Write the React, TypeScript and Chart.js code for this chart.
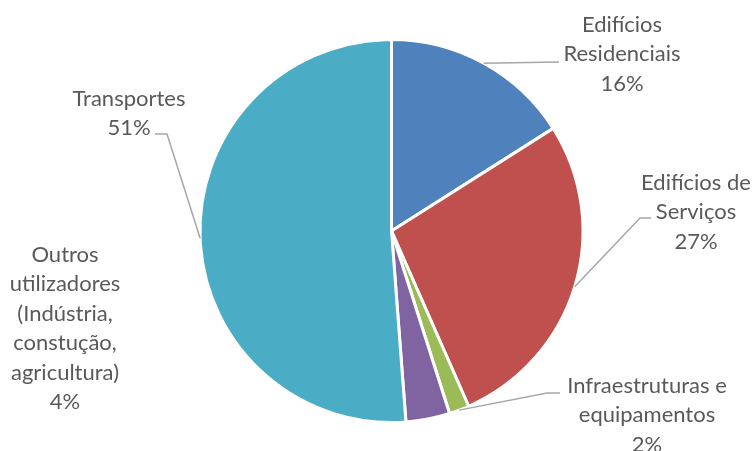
import React, { useEffect, useRef } from "react";
import { Chart, registerables } from "chart.js";

Chart.register(...registerables);

const categories = [
  "Edifícios Residenciais",
  "Edifícios de Serviços",
  "Infraestruturas e equipamentos",
  "Outros utilizadores (Indústria, constução, agricultura)",
  "Transportes",
];
const values = [16, 27.4, 1.7, 3.7, 51.2];
const labelLines = [
  ["Edifícios", "Residenciais"],
  ["Edifícios de", "Serviços"],
  ["Infraestruturas e", "equipamentos"],
  ["Outros", "utilizadores", "(Indústria,", "constução,", "agricultura)"],
  ["Transportes"],
];
const colors = ["#4F81BD", "#C0504D", "#9BBB59", "#8064A2", "#4BACC6"];

// layout of labels (center x, first baseline) and leader elbows
const labelLayout = [
  { x: 622, y: 32, leader: [[559, 62]] },
  { x: 696, y: 190, leader: [[640, 218], [651, 218]] },
  { x: 647, y: 393, leader: [[547, 393], [560, 393]] },
  { x: 65, y: 262, leader: [] },
  { x: 129, y: 106, leader: [[167, 134], [155, 134]] },
];

const FONT = '22px Lato, "Open Sans", sans-serif';
const LINE_H = 29.4;

const labelPlugin = {
  id: "pieLabels",
  afterDatasetsDraw(chart: any) {
    const ctx = chart.ctx;
    const meta = chart.getDatasetMeta(0);
    const data = chart.data.datasets[0].data as number[];
    const total = data.reduce((a, b) => a + b, 0);
    ctx.save();
    meta.data.forEach((arc: any, i: number) => {
      const p = arc.getProps(["x", "y", "startAngle", "endAngle", "outerRadius"], true);
      const mid = (p.startAngle + p.endAngle) / 2;
      const L = labelLayout[i];
      if (L.leader.length) {
        ctx.beginPath();
        ctx.strokeStyle = "#A6A6A6";
        ctx.lineWidth = 1.5;
        ctx.moveTo(p.x + Math.cos(mid) * p.outerRadius, p.y + Math.sin(mid) * p.outerRadius);
        L.leader.forEach((pt) => ctx.lineTo(pt[0], pt[1]));
        ctx.stroke();
      }
      const lines = [...labelLines[i], Math.round((data[i] / total) * 100) + "%"];
      ctx.fillStyle = "#595959";
      ctx.font = FONT;
      ctx.textAlign = "center";
      ctx.textBaseline = "alphabetic";
      lines.forEach((t, k) => ctx.fillText(t, L.x, L.y + k * LINE_H));
    });
    ctx.restore();
  },
};

export default function App() {
  const ref = useRef<HTMLCanvasElement>(null);
  useEffect(() => {
    const chart = new Chart(ref.current!, {
      type: "pie",
      data: {
        labels: categories,
        datasets: [
          {
            data: values,
            backgroundColor: colors,
            borderColor: "#FFFFFF",
            borderWidth: 3,
          },
        ],
      },
      options: {
        animation: false,
        responsive: false,
        maintainAspectRatio: false,
        layout: { padding: { top: 38, bottom: 27, left: 198, right: 167 } },
        plugins: {
          legend: { display: false },
          tooltip: { enabled: false },
        },
      },
      plugins: [labelPlugin],
    });
    return () => chart.destroy();
  }, []);
  return (
    <div style={{ position: "absolute", left: 0, top: 0, width: 752, height: 451, background: "#fff" }}>
      <canvas ref={ref} width={752} height={451} style={{ display: "block" }} />
    </div>
  );
}
